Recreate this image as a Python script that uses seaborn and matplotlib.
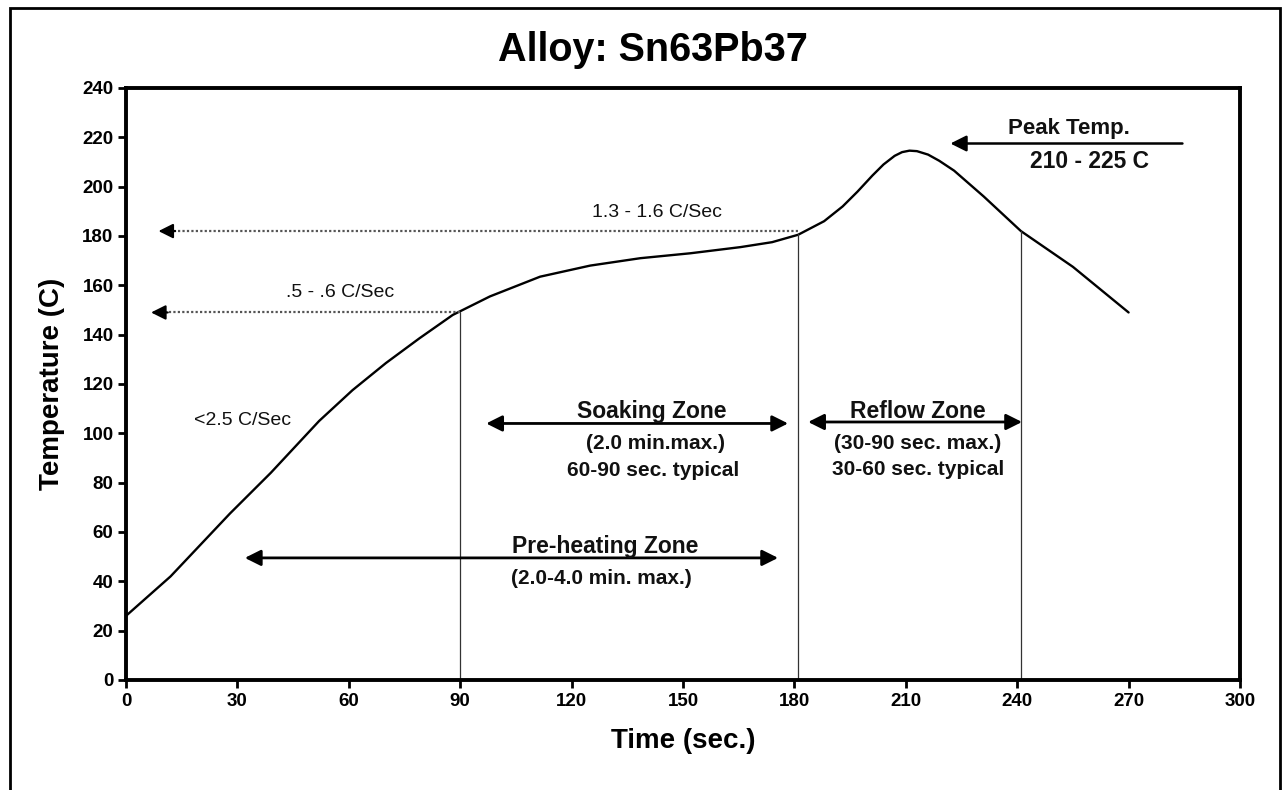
import numpy as np
import pandas as pd
import matplotlib
matplotlib.use("Agg")
import matplotlib.pyplot as plt
from matplotlib.patches import Rectangle
import seaborn as sns

# --- Data ---
time_s = [0, 12, 28, 39, 52, 61, 70, 79, 88, 98, 111.5, 125, 138.5, 152, 165.5, 174,
          181, 188, 193, 197, 201, 204, 207, 209, 211, 213, 216, 219, 223, 231, 241, 255, 270]
temp_c = [26, 42, 67.5, 84, 105, 117.5, 128.5, 138.5, 148, 155.5, 163.5, 168, 171, 173,
          175.5, 177.5, 180.5, 186, 192, 198, 204.5, 209, 212.5, 214, 214.6, 214.4, 213, 210.5,
          206.5, 196, 182, 167.5, 149]

x_ticks = list(range(0, 301, 30))
y_ticks = list(range(0, 241, 20))

# zone boundaries (sec) and the temperature each boundary reaches
zone_times = [90, 181, 241]
zone_temps = [149, 181, 182]

# ramp-rate guide lines: (temperature, start time, end time)
rate_temps = [182, 149]
rate_from = [181, 90]
rate_to = [8, 6]

title = "Alloy: Sn63Pb37"
x_label = "Time (sec.)"
y_label = "Temperature (C)"

df = pd.DataFrame({"Time": time_s, "Temp": temp_c})

sns.set_theme(style="white")
plt.rcParams["font.family"] = ["Liberation Sans", "DejaVu Sans"]
plt.rcParams["text.color"] = "black"
plt.rcParams["axes.labelcolor"] = "black"
plt.rcParams["xtick.color"] = "black"
plt.rcParams["ytick.color"] = "black"

fig = plt.figure(figsize=(12.86, 7.90), dpi=100)
ax = fig.add_axes([126 / 1286, 1 - 680 / 790, 1114 / 1286, 592 / 790])

sns.lineplot(data=df, x="Time", y="Temp", ax=ax, color="black", linewidth=1.7,
             solid_joinstyle="round")

# vertical zone boundary lines
for t, T in zip(zone_times, zone_temps):
    ax.plot([t, t], [0, T], color="#333333", linewidth=0.9)

# dotted guide arrows
for T, t0, t1 in zip(rate_temps, rate_from, rate_to):
    ax.plot([t0, t1 + 3], [T, T], color="#555555", linewidth=1.6, linestyle=(0, (1, 1)))
    ax.annotate("", xy=(t1, T), xytext=(t1 + 6, T),
                arrowprops=dict(arrowstyle="-|>", color="black", lw=1.5, mutation_scale=22))

def double_arrow(t0, t1, T):
    ax.annotate("", xy=(t0, T), xytext=(t1, T),
                arrowprops=dict(arrowstyle="<|-|>", color="black", lw=2, mutation_scale=24,
                                shrinkA=0, shrinkB=0))

double_arrow(97, 178.3, 104)
double_arrow(183.7, 241.3, 104.6)
double_arrow(32, 175.6, 49.5)

# peak temp arrow
ax.annotate("", xy=(222, 217.5), xytext=(284.5, 217.5),
            arrowprops=dict(arrowstyle="-|>", color="black", lw=1.8, mutation_scale=24,
                            shrinkA=0, shrinkB=0))

bold = dict(fontweight="bold", ha="center", va="center", color="#111111")
ax.text(141.7, 108.8, "Soaking Zone", fontsize=16.5, **bold)
ax.text(142.5, 96, "(2.0 min.max.)", fontsize=15, **bold)
ax.text(142, 85, "60-90 sec. typical", fontsize=15, **bold)
ax.text(213.3, 108.8, "Reflow Zone", fontsize=16.5, **bold)
ax.text(213.3, 96, "(30-90 sec. max.)", fontsize=15, **bold)
ax.text(213.3, 85.5, "30-60 sec. typical", fontsize=15, **bold)
ax.text(129, 54, "Pre-heating Zone", fontsize=16.5, **bold)
ax.text(128, 41.3, "(2.0-4.0 min. max.)", fontsize=15, **bold)
ax.text(254, 223.5, "Peak Temp.", fontsize=16, **bold)
ax.text(259.5, 210, "210 - 225 C", fontsize=16.5, **bold)

reg = dict(ha="center", va="center", color="#111111")
ax.text(143, 189.5, "1.3 - 1.6 C/Sec", fontsize=14, **reg)
ax.text(57.6, 157, ".5 - .6 C/Sec", fontsize=14, **reg)
ax.text(31.5, 105.4, "<2.5 C/Sec", fontsize=14, **reg)

ax.set_xlim(0, 300)
ax.set_ylim(0, 240)
ax.set_xticks(x_ticks)
ax.set_yticks(y_ticks)
ax.tick_params(axis="both", direction="out", length=6, width=2, color="black",
               labelsize=13.5, pad=3, bottom=True, left=True)
for lbl in ax.get_xticklabels() + ax.get_yticklabels():
    lbl.set_fontweight("bold")
for s in ax.spines.values():
    s.set_color("black")
    s.set_linewidth(2.8)

ax.set_xlabel(x_label, fontsize=20, fontweight="bold")
ax.set_ylabel(y_label, fontsize=20, fontweight="bold")
ax.xaxis.set_label_coords(0.5, -0.081)
ax.yaxis.set_label_coords(-0.055, 0.5)

fig.text(653 / 1286, 1 - 50 / 790, title, fontsize=28.5, fontweight="bold",
         ha="center", va="center")

# outer frame around the figure (open at the bottom)
fig.add_artist(Rectangle((10 / 1286, -0.1), 1270 / 1286, 1.1 - 8 / 790,
                         transform=fig.transFigure, fill=False, edgecolor="black", linewidth=2))

fig.savefig("out.png", dpi=100)
